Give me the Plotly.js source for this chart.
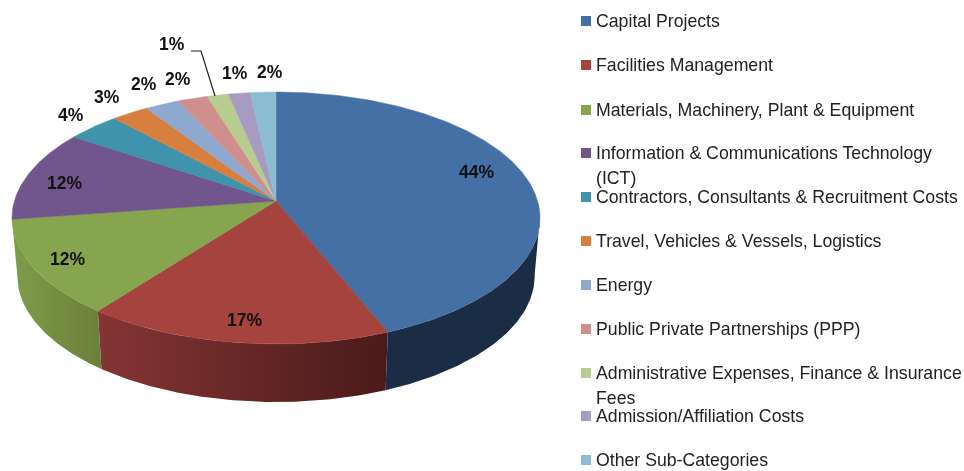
<!DOCTYPE html>
<html><head><meta charset="utf-8">
<script src="https://cdn.plot.ly/plotly-3.0.1.min.js"></script>
<style>html,body{margin:0;padding:0;background:#fff;overflow:hidden}#c{width:964px;height:471px;filter:blur(0.55px)}</style>
</head><body><div id="c"></div>
<script>
const categories = ["Capital Projects","Facilities Management","Materials, Machinery, Plant & Equipment","Information & Communications Technology<br>(ICT)","Contractors, Consultants & Recruitment Costs","Travel, Vehicles & Vessels, Logistics","Energy","Public Private Partnerships (PPP)","Administrative Expenses, Finance & Insurance<br>Fees","Admission/Affiliation Costs","Other Sub-Categories"];
const values = [43.9,16.5,12.3,11.7,3.7,2.6,2.4,2.1,1.5,1.5,1.8];
const labels = ["44%","17%","12%","12%","4%","3%","2%","2%","1%","1%","2%"];
const colors = ["#4470a6","#a5433f","#87a44e","#71558d","#3f93ad","#d77f3f","#8fa8d0","#ce8f8d","#b7cd90","#a79bc1","#8bbdd2"];
const sideColors = [["#1b2d45","#1b2d45"],["#4a1a1a","#843534"],["#6a8038","#7f9c4a"],null,null,null,null,null,null,null,null];
const labelX = [476,244,67,64,71,107,144,178,172,235,270];
const labelY = [172,320,259,183,115,97,84,79,44,73,72];
const legendY = [21,65,110,153,197,241,285,329,373,416,460];

const cx=276, cy=201, A=261.6, B=123.7, k=0.135, depth=58, shrink=0.98;
function topPt(t){const u=Math.sin(t),v=-Math.cos(t),w=1-k*v;return [cx+A*u/w,cy+B*v/w];}
function botPt(t){const p=topPt(t);return [cx+(p[0]-cx)*shrink,p[1]+depth];}
const rad=d=>d*Math.PI/180, pct=p=>p/100*2*Math.PI;
const total=values.reduce((a,b)=>a+b,0);
function arc(f,a,b){const n=Math.max(2,Math.ceil(Math.abs(b-a)/0.01)),o=[];for(let i=0;i<=n;i++)o.push(f(a+(b-a)*i/n));return o;}
const traces=[];
let acc=0; const spans=values.map(v=>{const s=[acc,acc+v/total*100];acc=s[1];return s;});
const lo=rad(97), hi=rad(263);
spans.forEach((s,i)=>{
  if(!sideColors[i])return;
  const a=Math.max(pct(s[0]),lo), b=Math.min(pct(s[1]),hi);
  if(b<=a)return;
  const pts=arc(topPt,a,b).concat(arc(botPt,b,a));
  traces.push({type:'scatter',mode:'lines',x:pts.map(p=>p[0]),y:pts.map(p=>p[1]),fill:'toself',line:{width:0,color:sideColors[i][0]},
    fillgradient:{type:'horizontal',colorscale:[[0,sideColors[i][1]],[1,sideColors[i][0]]]},hoverinfo:'skip',showlegend:false});
});
spans.forEach((s,i)=>{
  const pts=[[cx,cy]].concat(arc(topPt,pct(s[0]),pct(s[1]))); pts.push([cx,cy]);
  traces.push({type:'scatter',mode:'lines',x:pts.map(p=>p[0]),y:pts.map(p=>p[1]),fill:'toself',fillcolor:colors[i],line:{width:0.5,color:colors[i]},hoverinfo:'skip',showlegend:false});
});
traces.push({type:'scatter',mode:'lines',x:[191,201,215],y:[51,51,96],line:{color:'#222',width:1.2},hoverinfo:'skip',showlegend:false});
traces.push({type:'scatter',mode:'markers',x:categories.map(()=>586),y:legendY,marker:{symbol:'square',size:10,color:colors,line:{width:0}},hoverinfo:'skip',showlegend:false});
const annotations=[];
labels.forEach((t,i)=>annotations.push({x:labelX[i],y:labelY[i],xref:'x',yref:'y',text:'<b>'+t+'</b>',showarrow:false,xanchor:'center',yanchor:'middle',font:{family:'Liberation Sans',size:17.5,color:'#111'}}));
categories.forEach((c,i)=>c.split('<br>').forEach((line,j)=>annotations.push({x:594,y:legendY[i]+25*j,xref:'x',yref:'y',text:line,showarrow:false,xanchor:'left',yanchor:'middle',font:{family:'Liberation Sans',size:17.7,color:'#222'}})));
Plotly.newPlot('c',traces,{width:964,height:471,margin:{l:0,r:0,t:0,b:0},paper_bgcolor:'#fff',plot_bgcolor:'#fff',showlegend:false,
  xaxis:{range:[0,964],visible:false,fixedrange:true},yaxis:{range:[471,0],visible:false,fixedrange:true},annotations},{staticPlot:true,displayModeBar:false});
</script></body></html>
